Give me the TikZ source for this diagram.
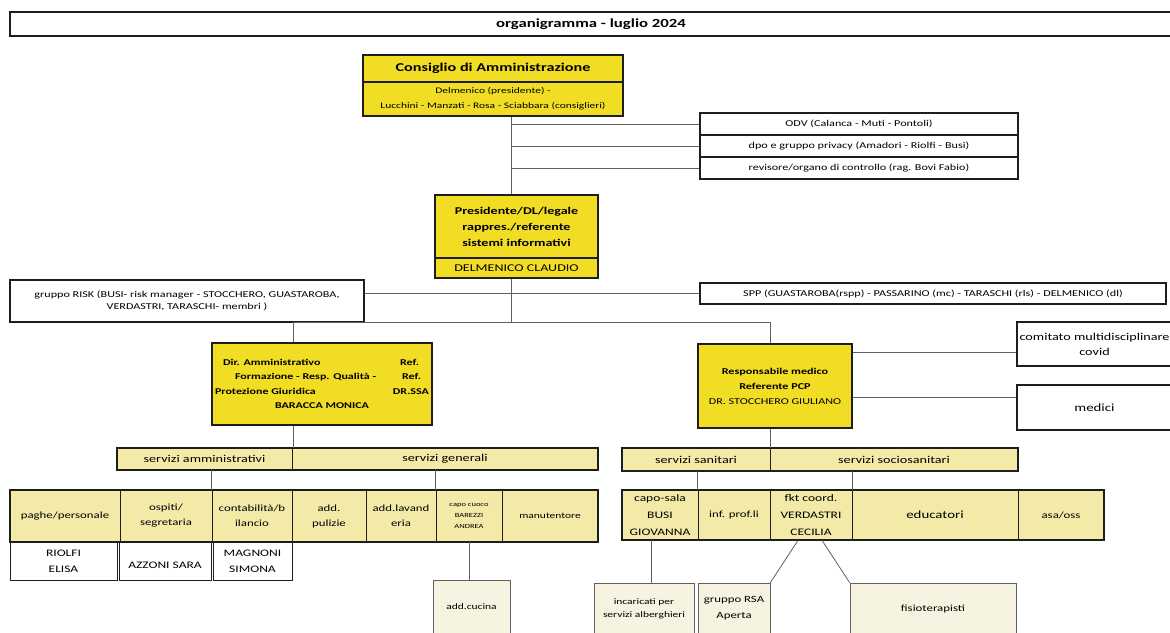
\documentclass[tikz,border=0pt]{standalone}
\usepackage{fontspec}
\setmainfont{Carlito}[FakeStretch=1.35]
\usepackage{tikz}
\definecolor{giallo}{RGB}{241,221,36}
\definecolor{paglia}{RGB}{243,234,168}
\definecolor{crema}{RGB}{246,244,224}
\definecolor{bordo}{RGB}{30,30,30}
\definecolor{grigio}{RGB}{95,95,95}
\tikzstyle{ybox} = [draw=bordo, fill=giallo, line width=1.8pt, inner sep=1pt, align=center]
\tikzstyle{wbox} = [draw=bordo, fill=white, line width=1.6pt, inner sep=1pt, align=center]
\tikzstyle{unit} = [draw=bordo, fill=paglia, line width=0.7pt, inner sep=1pt, align=center,
    font=\fontsize{9.5}{15}\selectfont]
\tikzstyle{person} = [draw=bordo, fill=white, line width=1pt, inner sep=1pt, align=center,
    font=\fontsize{10}{16}\selectfont]
\tikzstyle{leaf} = [draw=grigio, fill=crema, line width=0.7pt, inner sep=1pt, align=center,
    font=\fontsize{9.5}{15}\selectfont]
\tikzstyle{outer} = [draw=bordo, line width=2pt]
\tikzstyle{wire} = [draw=grigio, line width=0.8pt]
\tikzset{wh/.style 2 args={minimum width=#1pt, minimum height=#2pt}}

\begin{document}
\begin{tikzpicture}[x=1pt, y=-1pt]
    \useasboundingbox (0,0) rectangle (1170,632);
    % We start with the title and the top blocks
    \node [wbox, wh={1162}{24}, line width=2.2pt, font=\bfseries\fontsize{12.4}{13}\selectfont] (titolo) at (591,24) {organigramma - luglio 2024};
    \node [ybox, wh={260}{27}, font=\bfseries\fontsize{12}{13}\selectfont] (cda) at (493,68.5) {Consiglio di Amministrazione};
    \node [ybox, wh={260}{34}, font=\fontsize{8.5}{15}\selectfont] (cdanomi) at (493,99) {Delmenico (presidente) -\\Lucchini - Manzati - Rosa - Sciabbara (consiglieri)};
    \node [wbox, wh={318}{22}, font=\fontsize{9}{10}\selectfont] (odv) at (859,124) {ODV (Calanca - Muti - Pontoli)};
    \node [wbox, wh={318}{22}, font=\fontsize{9}{10}\selectfont] (dpo) at (859,146) {dpo e gruppo privacy (Amadori - Riolfi - Busi)};
    \node [wbox, wh={318}{22}, font=\fontsize{9}{10}\selectfont] (revisore) at (859,168) {revisore/organo di controllo (rag. Bovi Fabio)};
    \node [ybox, wh={163}{63}, font=\bfseries\fontsize{10.4}{16}\selectfont] (pres) at (516.5,226.5) {Presidente/DL/legale\\rappres./referente\\sistemi informativi};
    \node [ybox, wh={163}{20}, font=\fontsize{10.4}{11}\selectfont] (presnome) at (516.5,268) {DELMENICO CLAUDIO};
    \node [wbox, wh={354}{42}, font=\fontsize{9}{12}\selectfont] (risk) at (187,301) {gruppo RISK (BUSI- risk manager - STOCCHERO, GUASTAROBA,\\VERDASTRI, TARASCHI- membri )};
    \node [wbox, wh={466}{21}, font=\fontsize{9}{10}\selectfont] (spp) at (933,293.5) {SPP (GUASTAROBA(rspp) - PASSARINO (mc) - TARASCHI (rls) - DELMENICO (dl)};
    % the two directions
    \node [ybox, wh={220}{82}, font=\bfseries\fontsize{8.9}{14.5}\selectfont] (amm) at (322,384) {\makebox[214pt]{\hspace{8pt}Dir. Amministrativo\hfill Ref.\hspace{10pt}}\\\makebox[214pt]{\hspace{20pt}Formazione - Resp. Qualità -\hfill Ref.\hspace{8pt}}\\\makebox[214pt]{Protezione Giuridica\hfill DR.SSA}\\\makebox[214pt]{BARACCA MONICA}};
    \node [ybox, wh={154}{84}, font=\bfseries\fontsize{9}{15}\selectfont] (med) at (775,386) {Responsabile medico\\Referente PCP\\\mdseries DR. STOCCHERO GIULIANO};
    \node [wbox, wh={155}{44}, font=\fontsize{10.5}{15}\selectfont] (covid) at (1094.5,344) {comitato multidisciplinare\\covid};
    \node [wbox, wh={155}{45}, font=\fontsize{11}{12}\selectfont] (medici) at (1094.5,407.5) {medici};
    % services
    \node [unit, wh={175}{22}, font=\fontsize{10.5}{11}\selectfont] (samm) at (204.5,459) {servizi amministrativi};
    \node [unit, wh={306}{22}, font=\fontsize{10.5}{11}\selectfont] (sgen) at (445,459) {servizi generali};
    \draw [outer] (samm.north west) rectangle (sgen.south east);
    \node [unit, wh={148}{23}, font=\fontsize{10.5}{11}\selectfont] (ssan) at (696,459.5) {servizi sanitari};
    \node [unit, wh={248}{23}, font=\fontsize{10.5}{11}\selectfont] (ssoc) at (894,459.5) {servizi sociosanitari};
    \draw [outer] (ssan.north west) rectangle (ssoc.south east);
    % offices, left
    \node [unit, wh={110}{52}] (paghe) at (65,516) {paghe/personale};
    \node [unit, wh={92}{52}] (ospiti) at (166,516) {ospiti/\\segretaria};
    \node [unit, wh={80}{52}] (conta) at (252,516) {contabilità/b\\ilancio};
    \node [unit, wh={74}{52}] (pulizie) at (329,516) {add.\\pulizie};
    \node [unit, wh={70}{52}] (lavanderia) at (401,516) {add.lavand\\eria};
    \node [unit, wh={66}{52}, font=\fontsize{6.3}{11}\selectfont] (cuoco) at (469,516) {capo cuoco\\BAREZZI\\ANDREA};
    \node [unit, wh={96}{52}, font=\fontsize{8.5}{15}\selectfont] (manut) at (550,516) {manutentore};
    \draw [outer] (paghe.north west) rectangle (manut.south east);
    \node [person, wh={107}{38}] (riolfi) at (63.5,561) {RIOLFI\\ELISA};
    \node [person, wh={92}{38}] (azzoni) at (165,561) {\mbox{}\\AZZONI SARA};
    \node [person, wh={79}{38}] (magnoni) at (252.5,561) {MAGNONI\\SIMONA};
    \node [leaf, wh={77}{54}, font=\fontsize{8.5}{9}\selectfont] (cucina) at (471.5,607) {add.cucina};
    % offices, right
    \node [unit, wh={76}{50}, font=\fontsize{10}{17}\selectfont] (caposala) at (660,515) {capo-sala\\BUSI\\GIOVANNA};
    \node [unit, wh={72}{50}] (infermieri) at (734,515) {inf. prof.li};
    \node [unit, wh={82}{50}, font=\fontsize{10}{17}\selectfont] (fkt) at (811,515) {fkt coord.\\VERDASTRI\\CECILIA};
    \node [unit, wh={166}{50}, font=\fontsize{11}{12}\selectfont] (educatori) at (935,515) {educatori};
    \node [unit, wh={86}{50}] (asa) at (1061,515) {asa/oss};
    \draw [outer] (caposala.north west) rectangle (asa.south east);
    \node [leaf, wh={100}{51}, font=\fontsize{8.5}{13}\selectfont] (incaricati) at (644,608.5) {incaricati per\\servizi alberghieri};
    \node [leaf, wh={72}{51}, font=\fontsize{9.5}{16}\selectfont] (rsa) at (734,608.5) {gruppo RSA\\Aperta};
    \node [leaf, wh={166}{51}] (fisio) at (933,608.5) {fisioterapisti};
    % We draw the connectors
    \coordinate (asse) at (511,0);
    \coordinate (nodo) at (511,322);
    \coordinate (ramosx) at (293,322);
    \coordinate (ramodx) at (770,322);
    \draw [wire] (cdanomi.south -| asse) -- (pres.north -| asse);
    \draw [wire] (asse |- odv.west) -- (odv.west);
    \draw [wire] (asse |- dpo.west) -- (dpo.west);
    \draw [wire] (asse |- revisore.west) -- (revisore.west);
    \draw [wire] (risk.east |- spp.west) -- (spp.west);
    \draw [wire] (presnome.south -| asse) -- (nodo);
    \draw [wire] (ramosx |- amm.north) -- (ramosx) -- (ramodx) -- (ramodx |- med.north);
    \coordinate (c1) at ([yshift=-8pt]covid.west);
    \coordinate (c2) at ([yshift=10pt]medici.west);
    \draw [wire] (c1) -- (c1 -| med.east);
    \draw [wire] (c2) -- (c2 -| med.east);
    \draw [wire] (ramosx |- amm.south) -- (ramosx |- samm.north);
    \draw [wire] (ramodx |- med.south) -- (ramodx |- ssan.north);
    \draw [wire] (conta.north west |- samm.south) -- (conta.north west);
    \draw [wire] (cuoco.north west |- sgen.south) -- (cuoco.north west);
    \draw [wire] (cuoco.south) -- (cuoco.south |- cucina.north);
    \draw [wire] (infermieri.north west |- ssan.south) -- (infermieri.north west);
    \draw [wire] (fkt.north east |- ssoc.south) -- (fkt.north east);
    \coordinate (cs) at ([xshift=-9pt]caposala.south);
    \draw [wire] (cs) -- (cs |- incaricati.north);
    \draw [wire] ([xshift=-13pt]fkt.south) -- (rsa.north east);
    \draw [wire] ([xshift=11pt]fkt.south) -- (fisio.north west);
\end{tikzpicture}
\end{document}
